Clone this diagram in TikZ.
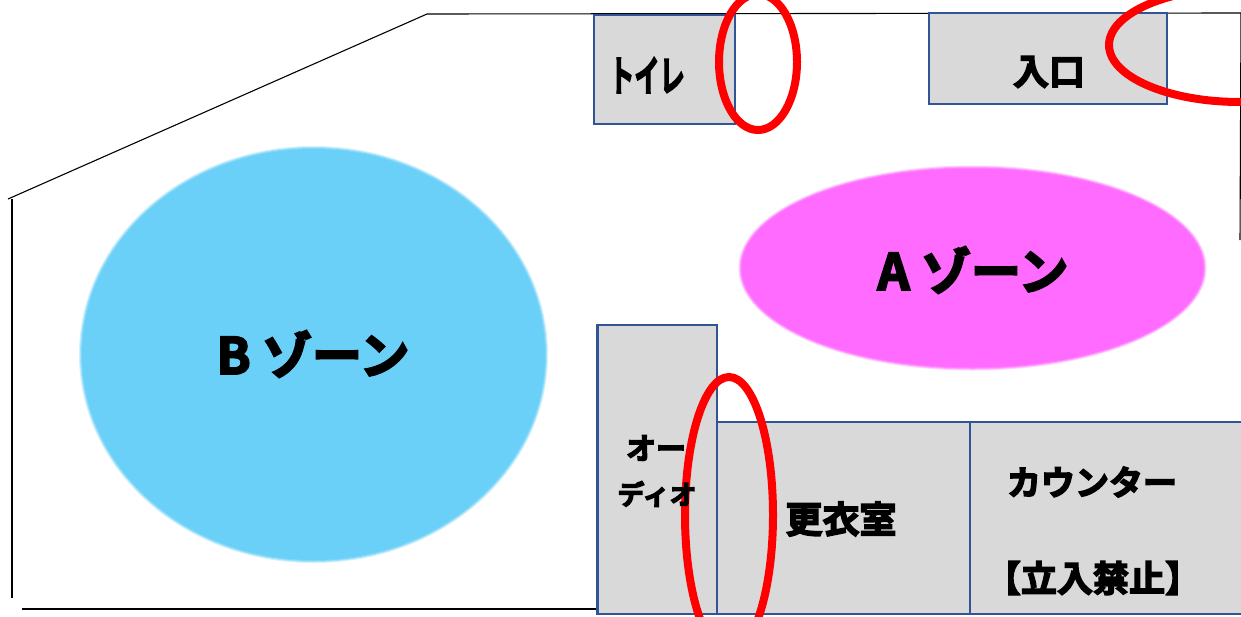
\documentclass[tikz,border=0pt]{standalone}
\usepackage{fontspec}
\newfontfamily\cjk[FakeBold=4]{Noto Sans CJK JP Bold}
\definecolor{boxblue}{HTML}{2F5597}
\definecolor{boxgray}{HTML}{D9D9D9}
\definecolor{zonepink}{HTML}{FF6BFF}
\definecolor{zonesky}{HTML}{6BD0F8}
\tikzset{
  room/.style={draw=boxblue,fill=boxgray,line width=2.9pt},
  wall/.style={draw=black,line width=1.1pt},
  ring/.style={draw=red,line width=8pt},
  lab/.style={inner sep=0pt,font=\cjk,text=black}
}
\begin{document}
\begin{tikzpicture}[x=1pt,y=-1pt]
\useasboundingbox (0,0) rectangle (1241,616);
\clip (0,0) rectangle (1241,616);
\fill[white] (0,0) rectangle (1241,616);
% walls
\coordinate (w1) at (8,199);
\coordinate (w2) at (427,14);
\coordinate (w3) at (1241,13);
\coordinate (w4) at (1240,240);
\coordinate (w5) at (12,199);
\coordinate (w6) at (12,598);
\coordinate (w7) at (22,609);
\coordinate (w8) at (597,609);
\draw[wall] (w1) -- (w2) -- (w3);
\draw[wall] (w3) -- (w4);
\draw[wall] (w5) -- (w6);
\draw[wall] (w7) -- (w8);
% zones, with a soft edge
\fill[zonesky!30] (313.5,354.5) ellipse [x radius=234.5,y radius=208.5];
\fill[zonesky!60] (313.5,354.5) ellipse [x radius=233.5,y radius=207.5];
\fill[zonesky!85] (313.5,354.5) ellipse [x radius=232.5,y radius=206.5];
\fill[zonesky] (313.5,354.5) ellipse [x radius=231.5,y radius=205.5];
\fill[zonepink!30] (972.5,268) ellipse [x radius=234,y radius=102.5];
\fill[zonepink!60] (972.5,268) ellipse [x radius=233,y radius=101.5];
\fill[zonepink!85] (972.5,268) ellipse [x radius=232,y radius=100.5];
\fill[zonepink] (972.5,268) ellipse [x radius=231,y radius=99.5];
% rooms
\draw[room] (594,15) rectangle (735,124);
\draw[room] (929,13) rectangle (1167,104);
\draw[room] (597.5,325) rectangle (717,614);
\draw[room] (717,422) rectangle (970,614);
\draw[room] (970,422) rectangle (1250,614);
% red rings
\draw[ring] (758,62) ellipse [x radius=39,y radius=68];
\draw[ring] (1240,45) ellipse [x radius=131,y radius=57];
\draw[ring] (729,515) ellipse [x radius=44,y radius=138];
% labels
\node[lab,font=\cjk\fontsize{42}{42}\selectfont,xscale=.6] (toilet) at (647,75) {トイレ};
\node[lab,font=\cjk\fontsize{36}{36}\selectfont] (entry) at (1049,72) {入口};
\node[lab,font=\cjk\fontsize{30}{30}\selectfont] (audio1) at (656,448) {オー};
\node[lab,font=\cjk\fontsize{27}{27}\selectfont] (audio2) at (657,494) {ディオ};
\node[lab,font=\cjk\fontsize{37}{37}\selectfont] (fit) at (841,519) {更衣室};
\node[lab,font=\cjk\fontsize{34}{34}\selectfont] (counter) at (1092,482) {カウンター};
\node[lab,font=\cjk\fontsize{36}{36}\selectfont] (ban) at (1093,578) {【立入禁止】};
\node[lab,font=\cjk\fontsize{50}{50}\selectfont] (zoneA) at (973,270) {A ゾーン};
\node[lab,font=\cjk\fontsize{50}{50}\selectfont] (zoneB) at (313,354) {B ゾーン};
\end{tikzpicture}
\end{document}
